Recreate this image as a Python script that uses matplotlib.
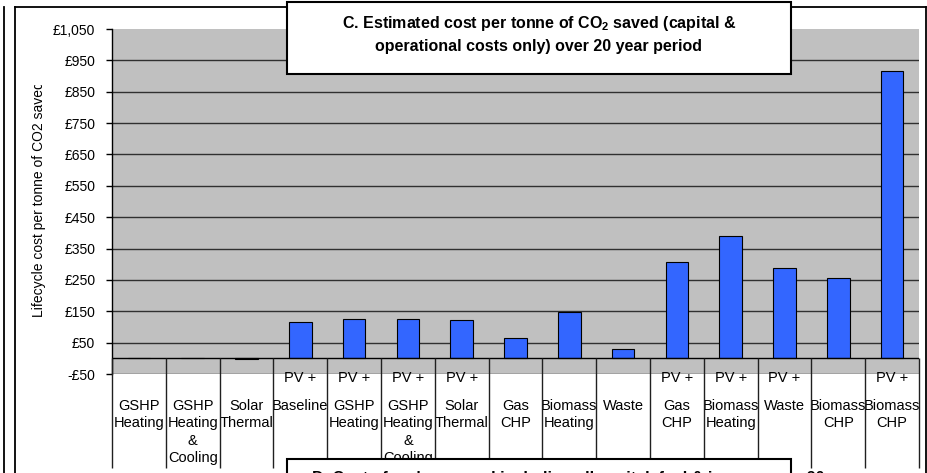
import matplotlib
matplotlib.use("Agg")
import matplotlib.pyplot as plt
from matplotlib.lines import Line2D
from matplotlib.patches import Rectangle
from matplotlib.transforms import Bbox, blended_transform_factory

plt.rcParams["font.family"] = ["Liberation Sans", "DejaVu Sans"]
plt.rcParams["mathtext.fontset"] = "custom"
plt.rcParams["mathtext.rm"] = "Liberation Sans"
plt.rcParams["mathtext.bf"] = "Liberation Sans:bold"

# technologies along the category axis
prefixes = ["", "", "", "PV +", "PV +", "PV +", "PV +", "", "", "",
            "PV +", "PV +", "PV +", "", "PV +"]
names = ["GSHP\nHeating", "GSHP\nHeating\n&\nCooling", "Solar\nThermal",
         "Baseline", "GSHP\nHeating", "GSHP\nHeating\n&\nCooling",
         "Solar\nThermal", "Gas\nCHP", "Biomass\nHeating", "Waste",
         "Gas\nCHP", "Biomass\nHeating", "Waste", "Biomass\nCHP",
         "Biomass\nCHP"]
# lifecycle cost per tonne of CO2 saved (GBP)
costs = [0, 0, -2, 117, 126, 126, 122, 66, 147, 30, 308, 390, 289, 255, 916]

yticks = [-50, 50, 150, 250, 350, 450, 550, 650, 750, 850, 950, 1050]
ytick_labels = ["-£50", "£50", "£150", "£250", "£350", "£450", "£550",
                "£650", "£750", "£850", "£950", "£1,050"]

W, H = 928, 473
fig = plt.figure(figsize=(W / 100, H / 100), dpi=100)


def fx(px):
    return px / W


def fy(py):
    return 1 - py / H


# outer frame lines
for x0, y0, x1, y1 in [(4, 7, 4, 473), (15, 7, 15, 473), (15, 7, 926, 7),
                       (926, 7, 926, 473)]:
    fig.add_artist(Line2D([fx(x0), fx(x1)], [fy(y0), fy(y1)], color="black",
                          lw=1.3, transform=fig.transFigure))

ax = fig.add_axes([fx(112), fy(374), fx(919) - fx(112), fy(29) - fy(374)])
ax.set_facecolor("#c0c0c0")
ax.set_xlim(-0.5, len(costs) - 0.5)
ax.set_ylim(-50, 1050)

for y in yticks[:-1]:
    ax.axhline(y, color="#303030", lw=1, zorder=1)

x = range(len(costs))
ax.bar(x, costs, width=0.42, color="#3366ff", edgecolor="black", lw=0.8,
       zorder=3)
ax.axhline(0, color="black", lw=1, zorder=4)

# category dividers running down through the label area
ax.vlines([i - 0.5 for i in range(len(costs) + 1)], -350, 0, color="#202020",
          lw=1, clip_on=False, zorder=4)

for s in ["top", "right", "bottom"]:
    ax.spines[s].set_visible(False)
ax.spines["left"].set_linewidth(1)
ax.set_xticks([])
ax.set_yticks(yticks)
ax.set_yticklabels(ytick_labels, fontsize=10)
ax.tick_params(axis="y", length=4, width=1, pad=8)

tr = blended_transform_factory(ax.transData, ax.transAxes)
for i, (p, n) in enumerate(zip(prefixes, names)):
    if p:
        ax.text(i, (374 - 378) / 345, p, transform=tr, ha="center",
                va="center", fontsize=10.5)
    ax.text(i, (374 - 399) / 345, n, transform=tr, ha="center", va="top",
            fontsize=10.5, linespacing=1.3)

# y axis title, cut off at the top
yl = fig.text(fx(39), fy(317), "Lifecycle cost per tonne of CO2 saved",
              rotation=90, ha="center", va="bottom", fontsize=10)
yl.set_clip_box(Bbox([[0, 0], [W, H - 84.5]]))
yl.set_clip_on(True)

# chart title box
fig.add_artist(Rectangle((fx(287), fy(74)), fx(791) - fx(287), fy(2) - fy(74),
                         facecolor="white", edgecolor="black", lw=1.5,
                         transform=fig.transFigure, zorder=5))
fig.text(fx(539), fy(34),
         "C. Estimated cost per tonne of CO$_\\mathbf{2}$ saved (capital &\n"
         "operational costs only) over 20 year period",
         ha="center", va="center", fontsize=11.5, fontweight="bold",
         linespacing=1.45, zorder=6)

# next chart's title box showing at the bottom edge
fig.add_artist(Rectangle((fx(287), fy(480)), fx(791) - fx(287), fy(459) - fy(480),
                         facecolor="white", edgecolor="black", lw=1.5,
                         transform=fig.transFigure, zorder=5))
fig.text(fx(312), fy(471),
         "D. Cost of carbon saved including all capital, fuel & income over 20 year",
         ha="left", va="top", fontsize=11.5, fontweight="bold", zorder=6)

fig.savefig("out.png", dpi=100)
